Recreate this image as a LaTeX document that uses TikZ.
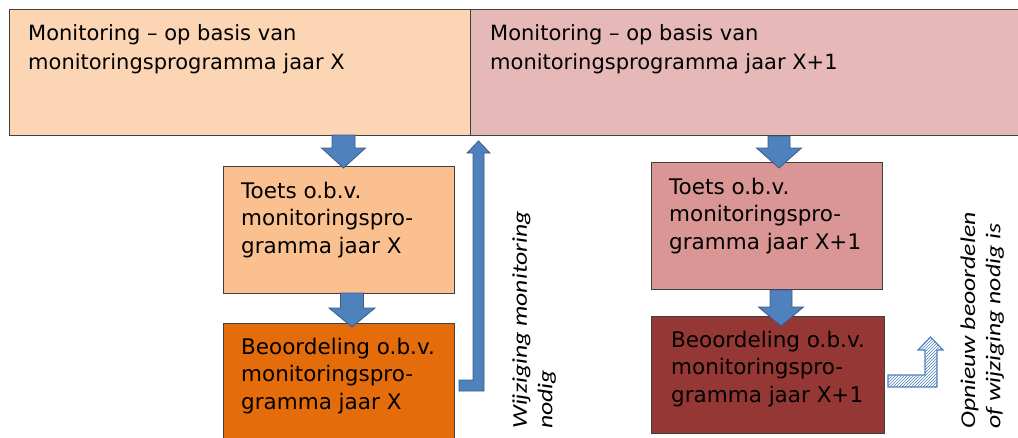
\documentclass[tikz,border=0pt]{standalone}
\usepackage{fontspec}
\setmainfont{DejaVu Sans}
\newfontfamily\rotfont{Carlito}
\usetikzlibrary{patterns}
\definecolor{topL}{HTML}{FCD5B5}
\definecolor{topR}{HTML}{E6B9B8}
\definecolor{toetsX}{HTML}{FAC090}
\definecolor{beoX}{HTML}{E46C0A}
\definecolor{toetsY}{HTML}{D99694}
\definecolor{beoY}{HTML}{953735}
\definecolor{arrowfill}{HTML}{4F81BD}
\definecolor{arrowline}{HTML}{385D8A}
\definecolor{boxline}{HTML}{404040}
\tikzset{
  box/.style={draw=boxline, line width=0.9pt, minimum width=231pt, minimum height=127pt, anchor=north west, inner sep=0pt},
  boxtext/.style={anchor=north west, inner sep=0pt, align=left, font=\fontsize{21.5}{27.5}\selectfont},
  toptext/.style={anchor=north west, inner sep=0pt, align=left, font=\fontsize{21}{29}\selectfont},
  rottext/.style={anchor=north west, inner sep=0pt, rotate=90},
  blockarrow/.style={fill=arrowfill, draw=arrowline, line width=0.8pt, line join=miter},
  hatcharrow/.style={pattern=north east lines, pattern color=arrowfill, draw=arrowfill, line width=1.2pt}
}
\begin{document}
\begin{tikzpicture}[x=1pt,y=-1pt]
\useasboundingbox (0,0) rectangle (1018,437);
% top bands
\fill[topL] (9,9) rectangle (470,135);
\fill[topR] (470,9) rectangle (1018,135);
\draw[boxline, line width=0.9pt] (1018,9) -- (9,9) -- (9,135) -- (1018,135);
\draw[boxline, line width=0.9pt] (470,9) -- (470,135);
\node[toptext] (topXt) at (28,24) {Monitoring – op basis van\\monitoringsprogramma jaar X};
\node[toptext] (topYt) at (490,24) {Monitoring – op basis van\\monitoringsprogramma jaar X+1};
% boxes
\node[box, fill=toetsX] (toetsXb) at (223,166) {};
\node[box, fill=beoX, minimum height=120pt] (beoXb) at (223,323) {};
\node[box, fill=toetsY] (toetsYb) at (651,162) {};
\node[box, fill=beoY, minimum width=233pt, minimum height=117pt] (beoYb) at (651,316) {};
\node[boxtext] (toetsXt) at (241,181.7) {Toets o.b.v.\\monitoringspro-\\gramma jaar X};
\node[boxtext] (beoXt) at (241,337.7) {Beoordeling o.b.v.\\monitoringspro-\\gramma jaar X};
\node[boxtext] (toetsYt) at (669,177.7) {Toets o.b.v.\\monitoringspro-\\gramma jaar X+1};
\node[boxtext] (beoYt) at (671,330.7) {Beoordeling o.b.v.\\monitoringspro-\\gramma jaar X+1};
% down arrows
\draw[blockarrow] (332,135) -- (355,135) -- (355,148) -- (365.5,148) -- (343.5,168) -- (321.5,148) -- (332,148) -- cycle;
\draw[blockarrow] (340.5,293) -- (363.5,293) -- (363.5,308) -- (375,308) -- (352,327) -- (329,308) -- (340.5,308) -- cycle;
\draw[blockarrow] (768,136) -- (790,136) -- (790,148) -- (801.5,148) -- (779,168) -- (756.5,148) -- (768,148) -- cycle;
\draw[blockarrow] (770,290) -- (792,290) -- (792,307) -- (803.5,307) -- (781,326) -- (758.5,307) -- (770,307) -- cycle;
% bent arrow up
\draw[blockarrow] (459,380) -- (473,380) -- (473,153) -- (467,153) -- (478.5,141) -- (490,153) -- (484,153) -- (484,391) -- (459,391) -- cycle;
% hatched bent arrow
\draw[hatcharrow] (888,375) -- (925,375) -- (925,350) -- (918,350) -- (930.5,337) -- (943,350) -- (937,350) -- (937,387) -- (888,387) -- cycle;
% rotated labels
\node[rottext] (wijz) at (509,429) {\scalebox{1}[0.82]{\rotfont\itshape\fontsize{25.7}{31}\selectfont\begin{tabular}{@{}l@{}}Wijziging monitoring\\nodig\end{tabular}}};
\node[rottext] (opn) at (957,429) {\scalebox{1}[0.82]{\rotfont\itshape\fontsize{25.7}{31}\selectfont\begin{tabular}{@{}l@{}}Opnieuw beoordelen\\of wijziging nodig is\end{tabular}}};
\end{tikzpicture}
\end{document}
